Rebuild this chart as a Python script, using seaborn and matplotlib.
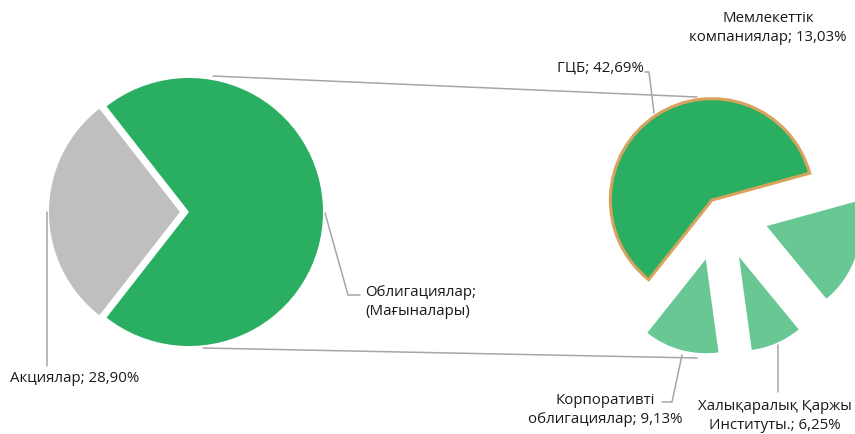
import matplotlib
matplotlib.use("Agg")
import matplotlib.pyplot as plt
import seaborn as sns

# main split
main_labels = ["Акциялар; 28,90%", "Облигациялар;\n(Мағыналары)"]
main_values = [28.90, 71.10]

# breakdown of bonds
sub_labels = ["ГЦБ; 42,69%", "Корпоративті\nоблигациялар; 9,13%",
              "Халықаралық Қаржы\nИнституты.; 6,25%", "Мемлекеттік\nкомпаниялар; 13,03%"]
sub_values = [42.69, 9.13, 6.25, 13.03]

sns.set_theme(style="white")
plt.rcParams['font.family'] = ['Open Sans', 'DejaVu Sans']

green = "#2AAF62"
light_green = "#68C793"
grey = "#BFBFBF"
orange = "#D9A25E"
line_col = "#A6A6A6"
txt_col = "#1A1A1A"

W, H = 855, 434
fig = plt.figure(figsize=(W / 100, H / 100), dpi=100)
ax = fig.add_axes([0, 0, 1, 1])

def Y(y):
    # picture rows measured from top
    return H - y

# left pie (explode is in data units = pixels here)
left_c = (189, Y(212))
left_r = 134
start = 180 - main_values[0] / sum(main_values) * 180
lw_, _ = ax.pie(main_values, colors=[grey, green], startangle=start, counterclock=True,
                center=left_c, radius=left_r, explode=[9, 0],
                wedgeprops=dict(linewidth=0))
lw_[0].set_radius(131)

# right pie (exploded)
right_c = (719, Y(211))
right_r = 101.5
wedges, _ = ax.pie(sub_values, colors=[green, light_green, light_green, light_green],
                   startangle=15.4, counterclock=True, center=right_c, radius=right_r,
                   explode=[13, 50, 50, 50], wedgeprops=dict(linewidth=0))
wedges[0].set_edgecolor(orange)
wedges[0].set_linewidth(2.2)
for w in wedges[1:]:
    w.set_radius(94)

# connector lines between the pies
ax.plot([213, 697], [Y(76), Y(97)], color=line_col, lw=1.1, zorder=0)
ax.plot([203, 697], [Y(348), Y(358)], color=line_col, lw=1.1, zorder=0)

# leader lines
lk = dict(color=line_col, lw=1.1)
ax.plot([47, 47], [Y(212), Y(366)], **lk)
ax.plot([325, 348, 360], [Y(213), Y(295), Y(295)], **lk)
ax.plot([645, 649, 654], [Y(72), Y(72), Y(113)], **lk)
ax.plot([682, 672, 662], [Y(355), Y(402), Y(402)], **lk)
ax.plot([778, 778], [Y(345), Y(392)], **lk)

fs = 10.8
tk = dict(fontsize=fs, color=txt_col, linespacing=1.3)
ax.text(10, Y(378), main_labels[0], ha="left", va="center", **tk)
ax.text(365, Y(302), main_labels[1], ha="left", va="center", **tk)
ax.text(644, Y(68), sub_labels[0], ha="right", va="center", **tk)
ax.text(605, Y(410), sub_labels[1], ha="center", va="center", **tk)
ax.text(775, Y(416), sub_labels[2], ha="center", va="center", **tk)
ax.text(768, Y(28), sub_labels[3], ha="center", va="center", **tk)

ax.set_xlim(0, W)
ax.set_ylim(0, H)
ax.set_aspect("equal")
ax.axis("off")

fig.savefig("out.png", dpi=100, facecolor="white")
